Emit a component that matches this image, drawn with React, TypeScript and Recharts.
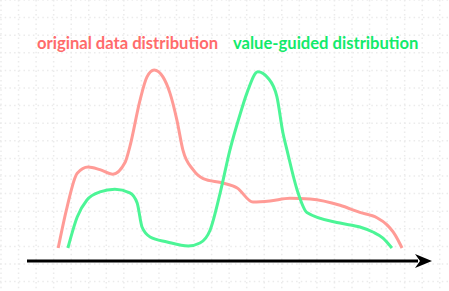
import React from "react";
import { ComposedChart, Line, XAxis, YAxis, CartesianGrid, ReferenceLine } from "recharts";

// x: position along the value axis (0..100), y: relative density
const originalX = [7.7, 9.9, 12.4, 15.1, 18.0, 21.2, 24.2, 25.4, 27.9, 29.6, 31.4, 33.6, 35.3, 37.0, 38.5, 41.0, 43.5, 48.4, 51.9, 55.8, 60.0, 64.9, 69.9, 77.3, 82.2, 86.4, 88.9, 90.4, 91.6, 92.6];
const originalY = [0, 0.23, 0.42, 0.455, 0.44, 0.415, 0.48, 0.57, 0.83, 0.96, 1.0, 0.96, 0.87, 0.72, 0.55, 0.44, 0.39, 0.365, 0.337, 0.258, 0.264, 0.28, 0.275, 0.24, 0.2, 0.17, 0.13, 0.09, 0.045, 0];

const guidedX = [10.1, 12.4, 14.8, 18.0, 21.7, 25.4, 27.2, 28.4, 30.4, 34.6, 39.8, 42.7, 45.2, 47.7, 50.1, 52.6, 54.3, 57.0, 59.5, 61.7, 63.2, 64.2, 66.7, 69.1, 77.3, 82.2, 85.4, 87.9, 90.1];
const guidedY = [0, 0.174, 0.27, 0.315, 0.33, 0.31, 0.253, 0.118, 0.062, 0.034, 0.011, 0.028, 0.1, 0.31, 0.55, 0.75, 0.87, 0.99, 0.955, 0.85, 0.646, 0.55, 0.326, 0.2, 0.14, 0.118, 0.09, 0.056, 0];

const seriesNames = ["original data distribution", "value-guided distribution"];
const seriesColors = ["#ff9b96", "#4cf596"];
const labelColors = ["#ff6b6b", "#12ea6a"];

const originalData = originalX.map((x, i) => ({ x, y: originalY[i] }));
const guidedData = guidedX.map((x, i) => ({ x, y: guidedY[i] }));

const gridV = Array.from({ length: 26 }, (_, i) => 1 + i * 17.55);
const gridH = Array.from({ length: 17 }, (_, i) => i * 17.6);

const Arrow = (props: any) => {
  const { x1, y1, x2 } = props;
  return (
    <g>
      <line x1={x1} y1={y1} x2={x2 - 14} y2={y1} stroke="#000" strokeWidth={3} />
      <polygon points={`${x2},${y1} ${x2 - 17},${y1 - 7} ${x2 - 12},${y1} ${x2 - 17},${y1 + 7}`} fill="#000" />
    </g>
  );
};

const labelStyle: React.CSSProperties = {
  position: "absolute",
  top: 33,
  fontFamily: "Lato",
  fontWeight: 700,
  fontSize: 16.6,
  lineHeight: "20px",
  whiteSpace: "nowrap",
};

export default function App() {
  return (
    <div style={{ position: "absolute", left: 0, top: 0, width: 449, height: 291, background: "#fff" }}>
      <ComposedChart width={449} height={291} margin={{ top: 34.4, right: 17, bottom: 25.2, left: 27 }}>
        <CartesianGrid
          x={0}
          y={0}
          width={449}
          height={291}
          horizontalPoints={gridH}
          verticalPoints={gridV}
          stroke="#ebebeb"
          strokeWidth={1.5}
          strokeDasharray="1.5 3.2"
        />
        <XAxis type="number" dataKey="x" domain={[0, 100]} hide />
        <YAxis type="number" domain={[-0.1, 1.2]} hide />
        <ReferenceLine y={-0.073} stroke="#000" shape={Arrow} />
        <Line data={originalData} dataKey="y" name={seriesNames[0]} type="monotone" stroke={seriesColors[0]} strokeWidth={3} dot={false} isAnimationActive={false} />
        <Line data={guidedData} dataKey="y" name={seriesNames[1]} type="monotone" stroke={seriesColors[1]} strokeWidth={3} dot={false} isAnimationActive={false} />
      </ComposedChart>
      <span style={{ ...labelStyle, left: 37, color: labelColors[0] }}>{seriesNames[0]}</span>
      <span style={{ ...labelStyle, left: 233, color: labelColors[1] }}>{seriesNames[1]}</span>
    </div>
  );
}
